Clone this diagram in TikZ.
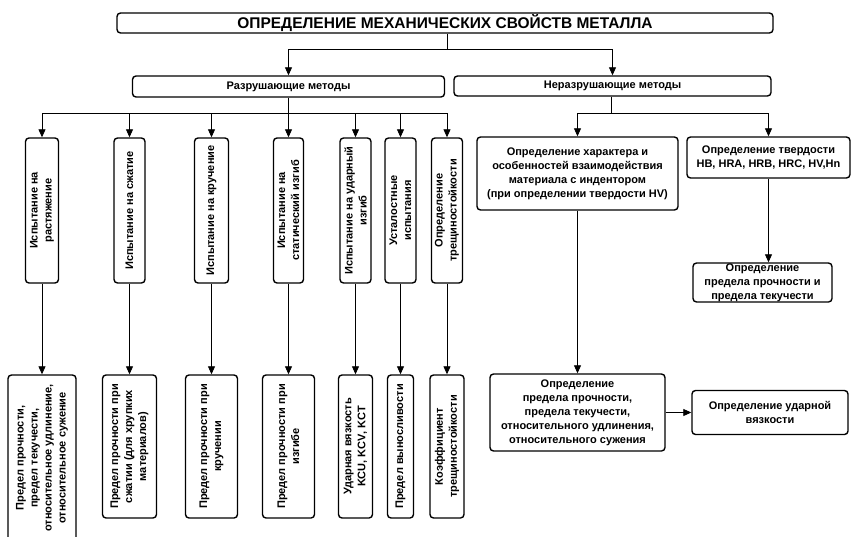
\documentclass[tikz,border=0pt]{standalone}
\usepackage{fontspec}
\setmainfont{Liberation Sans}
\usetikzlibrary{arrows.meta}
\begin{document}
\begin{tikzpicture}[x=1pt,y=-1pt,
  box/.style={draw, line width=1.4pt, rounded corners=3.5pt, inner sep=0pt, align=center,
              font=\bfseries\fontsize{11}{14}\selectfont},
  vbox/.style={box, rotate=90},
  ln/.style={line width=0.8pt},
  arr/.style={line width=0.8pt, -{Triangle[length=8pt,width=7pt]}}]
\clip (0,0) rectangle (852,536);
% title and two method boxes
\node[box, minimum width=656pt, minimum height=20pt, font=\bfseries\fontsize{15.5}{18}\selectfont] (T) at (445,23) {ОПРЕДЕЛЕНИЕ МЕХАНИЧЕСКИХ СВОЙСТВ МЕТАЛЛА};
\node[box, minimum width=312pt, minimum height=21pt] (D) at (288.5,86.5) {Разрушающие методы};
\node[box, minimum width=317pt, minimum height=20pt] (ND) at (612.5,86) {Неразрушающие методы};
% destructive: upper boxes
\node[vbox, minimum width=145pt, minimum height=33pt] (U1) at (42,210.5) {Испытание на\\растяжение};
\node[vbox, minimum width=145pt, minimum height=31pt] (U2) at (129.5,210.5) {Испытание на сжатие};
\node[vbox, minimum width=145pt, minimum height=34pt] (U3) at (211.5,210.5) {Испытание на кручение};
\node[vbox, minimum width=145pt, minimum height=30pt] (U4) at (288.5,210.5) {Испытание на\\статический изгиб};
\node[vbox, minimum width=145pt, minimum height=31pt] (U5) at (355.5,210.5) {Испытание на ударный\\изгиб};
\node[vbox, minimum width=145pt, minimum height=31pt] (U6) at (400.5,210.5) {Усталостные\\испытания};
\node[vbox, minimum width=145pt, minimum height=31pt] (U7) at (447,210.5) {Определение\\трещиностойкости};
% destructive: lower boxes
\node[vbox, minimum width=166pt, minimum height=68pt] (L1) at (42,458) {Предел прочности,\\предел текучести,\\относительное удлинение,\\относительное сужение};
\node[vbox, minimum width=143pt, minimum height=54pt] (L2) at (129.5,446.5) {Предел прочности при\\сжатии (для хрупких\\материалов)};
\node[vbox, minimum width=143pt, minimum height=52pt] (L3) at (211.5,446.5) {Предел прочности при\\кручении};
\node[vbox, minimum width=143pt, minimum height=52pt] (L4) at (288.5,446.5) {Предел прочности при\\изгибе};
\node[vbox, minimum width=143pt, minimum height=34pt] (L5) at (355.5,446.5) {Ударная вязкость\\KCU, KCV, KCT};
\node[vbox, minimum width=143pt, minimum height=26pt] (L6) at (400.5,446.5) {Предел выносливости};
\node[vbox, minimum width=143pt, minimum height=34pt] (L7) at (447,446.5) {Коэффициент\\трещиностойкости};
% non-destructive
\node[box, minimum width=201pt, minimum height=73pt] (R1) at (577.5,173.5) {Определение характера и\\особенностей взаимодействия\\материала с индентором\\(при определении твердости HV)};
\node[box, minimum width=163pt, minimum height=41pt] (R2) at (768.5,157.5) {Определение твердости\\HB, HRA, HRB, HRC, HV,Hn};
\node[box, minimum width=139pt, minimum height=39pt] (R3) at (762.5,282.5) {Определение\\предела прочности и\\предела текучести};
\node[box, minimum width=175pt, minimum height=77pt] (R4) at (577.5,412.5) {Определение\\предела прочности,\\предела текучести,\\относительного удлинения,\\относительного сужения};
\node[box, minimum width=156pt, minimum height=44pt] (R5) at (770,412.5) {Определение ударной\\вязкости};
% connectors
\coordinate (tj) at (447,49);
\draw[ln] (T.south -| tj) -- (tj);
\draw[arr] (tj) -| (D);
\draw[arr] (tj) -| (ND);
\coordinate (jD) at (288.5,113);
\draw[ln] (D) -- (jD);
\foreach \n in {U1,U2,U3,U4,U5,U6,U7} \draw[arr] (jD) -| (\n);
\draw[arr] (U1) -- (L1);
\draw[arr] (U2) -- (L2);
\draw[arr] (U3) -- (L3);
\draw[arr] (U4) -- (L4);
\draw[arr] (U5) -- (L5);
\draw[arr] (U6) -- (L6);
\draw[arr] (U7) -- (L7);
\coordinate (jN) at (611,113);
\draw[ln] (ND.south -| jN) -- (jN);
\draw[arr] (jN) -| (R1);
\draw[arr] (jN) -| (R2);
\draw[arr] (R2.south) -- (R2.south |- R3.north);
\draw[arr] (R1) -- (R4);
\draw[arr] (R4.east) -- (R4.east -| R5.west);
\end{tikzpicture}
\end{document}
